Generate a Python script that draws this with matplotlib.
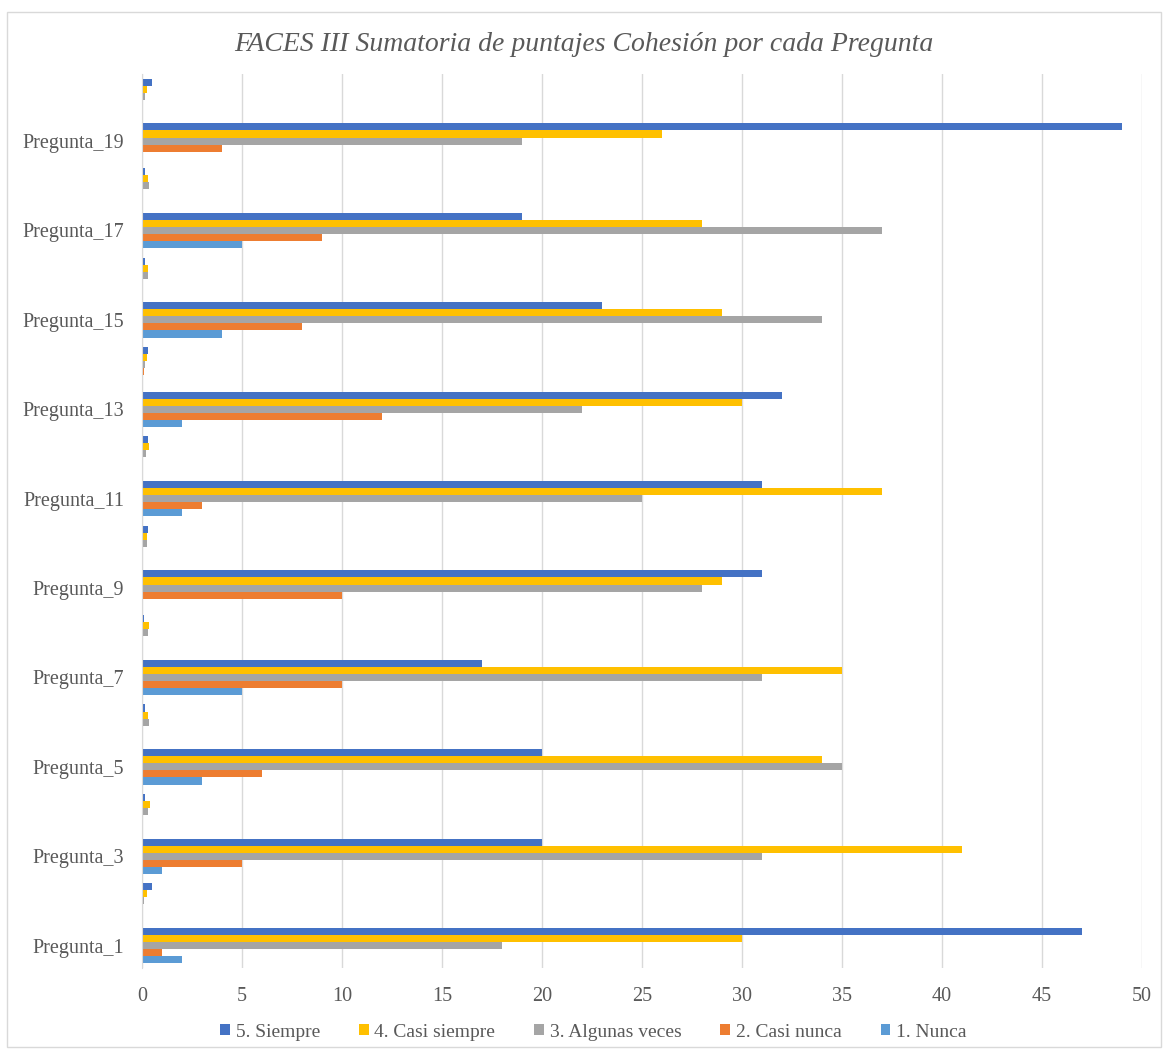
import matplotlib
matplotlib.use("Agg")
import matplotlib.pyplot as plt
import numpy as np
from matplotlib.patches import Rectangle

##data##
preguntas = ["Pregunta_%d" % i for i in range(1, 21)]
nunca = [2, 0, 1, 0, 3, 0, 5, 0, 0, 0, 2, 0, 2, 0, 4, 0, 5, 0, 0, 0]
casi_nunca = [1, 0, 5, 0, 6, 0, 10, 0.05, 10, 0.05, 3, 0, 12, 0.1, 8, 0.05, 9, 0.05, 4, 0]
algunas_veces = [18, 0.1, 31, 0.3, 35, 0.35, 31, 0.3, 28, 0.25, 25, 0.2, 22, 0.15, 34, 0.3, 37, 0.35, 19, 0.15]
casi_siempre = [30, 0.25, 41, 0.4, 34, 0.3, 35, 0.35, 29, 0.25, 37, 0.35, 30, 0.25, 29, 0.3, 28, 0.3, 26, 0.25]
siempre = [47, 0.5, 20, 0.15, 20, 0.15, 17, 0.1, 31, 0.3, 31, 0.3, 32, 0.3, 23, 0.15, 19, 0.15, 49, 0.5]

series = [("1. Nunca", nunca, "#5B9BD5"),
          ("2. Casi nunca", casi_nunca, "#ED7D31"),
          ("3. Algunas veces", algunas_veces, "#A5A5A5"),
          ("4. Casi siempre", casi_siempre, "#FFC000"),
          ("5. Siempre", siempre, "#4472C4")]

plt.rcParams['font.family'] = ['Liberation Serif', 'DejaVu Serif']

fig = plt.figure(figsize=(11.68, 10.5), dpi=100)
#light frame round the chart like the excel chart area
fig.patches.append(Rectangle((0.006, 0.003), 0.988, 0.986, transform=fig.transFigure,
                             fill=False, edgecolor="#D9D9D9", linewidth=1))
ax = fig.add_axes([0.1216, 0.0781, 0.8562, 0.8514])

y = np.arange(len(preguntas))
bar_h = 0.158
handles = {}
for k, (name, vals, col) in enumerate(series):
    offset = (k - 2) * bar_h
    handles[name] = ax.barh(y + offset, vals, height=bar_h, color=col, label=name, zorder=3)

ax.set_xlim(0, 50)
ax.set_ylim(-0.5, len(preguntas) - 0.5)
ax.set_xticks(np.arange(0, 51, 5))
ax.set_yticks(y[::2])
ax.set_yticklabels(preguntas[::2])
ax.tick_params(axis="both", length=0, labelsize=14.5, colors="#595959")
ax.tick_params(axis="x", pad=14)
ax.tick_params(axis="y", pad=13)
ax.grid(axis="x", color="#D9D9D9", linewidth=1, zorder=0)
for s in ["top", "right", "bottom"]:
    ax.spines[s].set_visible(False)
ax.spines["left"].set_color("#D9D9D9")
ax.spines["left"].set_zorder(4)

fig.text(0.5, 0.958, "FACES III Sumatoria de puntajes Cohesión por cada Pregunta",
         ha="center", va="center", fontsize=20, style="italic", color="#595959")

order = ["5. Siempre", "4. Casi siempre", "3. Algunas veces", "2. Casi nunca", "1. Nunca"]
fig.legend([handles[n] for n in order], order, loc="center", bbox_to_anchor=(0.508, 0.017),
           ncol=5, frameon=False, fontsize=14, labelcolor="#595959", handlelength=0.5,
           handleheight=0.5, handletextpad=0.3, columnspacing=2.0)

fig.savefig("out.png", dpi=100)
